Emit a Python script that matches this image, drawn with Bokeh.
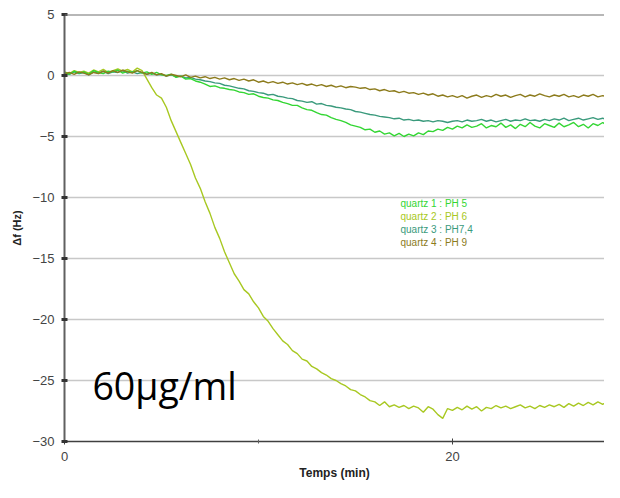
from bokeh.plotting import figure
from bokeh.models import Range1d, FixedTicker, Span, Label
from bokeh.embed import file_html
from bokeh.resources import INLINE

# ---- data ----
step_min = 0.25  # sampling interval of the recordings (min)

ph5 = [0.25, 0.10, 0.35, 0.20, 0.30, 0.10, 0.40, 0.25, 0.15, 0.35, 0.30, 0.45, 0.20, 0.35, 0.25, 0.40, 0.20, 0.30, 0.10, 0.25, 0.05,
       0.00, 0.10, -0.15, -0.05, -0.30, -0.25, -0.45, -0.55, -0.70, -0.90,
       -0.85, -1.00, -1.05, -1.15, -1.20, -1.35, -1.40, -1.55, -1.50, -1.70, -1.80, -1.85, -2.00, -2.05, -2.20, -2.30, -2.45,
       -2.45, -2.65, -2.80, -2.85, -3.05, -3.20, -3.25, -3.45, -3.60, -3.70, -3.85, -4.05, -4.15,
       -4.25, -4.45, -4.40, -4.65, -4.55, -4.80, -4.70, -4.95, -4.75, -5.00, -4.80, -4.95,
       -4.70, -4.85, -4.55, -4.60, -4.40, -4.50, -4.25, -4.40, -4.15,
       -4.30, -4.05, -4.25, -4.15, -3.95, -4.30, -4.10, -4.20, -3.90, -4.25,
       -4.05, -4.35, -4.00, -4.20, -3.85, -4.15, -4.30, -3.95, -4.10, -4.25,
       -3.90, -4.20, -4.05, -3.85, -4.20, -4.00, -4.30, -3.95, -4.10, -3.85,
       -4.15, -4.05, -4.25, -3.95]

ph6 = [0.30, 0.15, 0.40, 0.25, 0.35, 0.20, 0.45, 0.30, 0.50, 0.25, 0.40, 0.55, 0.35, 0.50, 0.30, 0.60, 0.40,
       -0.30, -1.00, -1.60, -1.85, -2.60, -3.70, -4.60, -5.50, -6.40, -7.30, -8.40, -9.25, -10.35, -11.30,
       -12.45, -13.35, -14.45, -15.35, -16.25, -16.85, -17.55, -17.90, -18.55, -19.05, -19.75, -20.15, -20.75,
       -21.25, -21.75, -22.05, -22.55, -22.80, -23.25, -23.40, -23.85, -24.05, -24.35, -24.55, -24.85,
       -25.00, -25.25, -25.45, -25.75, -25.85, -26.15, -26.35, -26.65, -26.75, -27.05, -26.75, -27.15, -27.00,
       -27.20, -27.05, -27.30, -27.10, -27.25, -27.60, -27.15, -27.35, -27.80, -28.10, -27.30, -27.45,
       -27.20, -27.40, -27.10, -27.35, -27.15, -27.50, -27.20, -27.30, -27.05, -27.25, -27.10, -27.30,
       -27.15, -27.00, -27.25, -27.10, -27.30, -27.05, -27.20, -27.00, -27.15, -26.95, -27.20, -26.90,
       -27.10, -26.85, -27.05, -26.80, -27.00, -26.75, -26.95, -26.70, -26.90, -26.80, -26.95]

ph74 = [0.20, 0.10, 0.30, 0.15, 0.25, 0.05, 0.30, 0.20, 0.35, 0.15, 0.30, 0.25, 0.40, 0.20, 0.30, 0.15, 0.25,
        0.10, 0.20, 0.05, 0.10, -0.05, 0.05, -0.10, -0.05,
        -0.20, -0.15, -0.30, -0.35, -0.45, -0.50, -0.60, -0.65, -0.80, -0.85, -0.95, -1.05, -1.10, -1.25, -1.30, -1.40,
        -1.45, -1.60, -1.55, -1.70, -1.75, -1.85, -1.90, -2.05,
        -2.10, -2.20, -2.15, -2.35, -2.30, -2.45, -2.50, -2.60, -2.65, -2.75, -2.80, -2.95,
        -3.00, -3.10, -3.20, -3.25, -3.35, -3.40,
        -3.45, -3.55, -3.50, -3.65, -3.60, -3.70, -3.65, -3.75, -3.70, -3.80, -3.70, -3.75, -3.85, -3.75,
        -3.70, -3.80, -3.65, -3.75, -3.70, -3.60, -3.75, -3.65, -3.80, -3.70,
        -3.60, -3.75, -3.65, -3.70, -3.55, -3.70, -3.65, -3.75, -3.60, -3.70,
        -3.55, -3.65, -3.50, -3.70, -3.60, -3.50, -3.65, -3.55, -3.45, -3.60,
        -3.50, -3.65, -3.45, -3.55, -3.50]

ph9 = [0.15, 0.25, 0.10, 0.30, 0.20, 0.05, 0.25, 0.15, 0.35, 0.20, 0.40, 0.25, 0.45, 0.30, 0.20, 0.40, 0.25,
       0.10, 0.25, 0.05, 0.15, -0.05, 0.10, 0.00, -0.10, 0.05, -0.15, -0.05, -0.20, -0.10, -0.25, -0.15, -0.30,
       -0.20, -0.35, -0.25, -0.40, -0.30, -0.45, -0.35, -0.55,
       -0.45, -0.60, -0.50, -0.65, -0.55, -0.70, -0.60, -0.75, -0.65, -0.80, -0.70, -0.85, -0.75, -0.90, -0.80,
       -0.95, -0.85, -1.00, -0.90, -0.95,
       -1.05, -1.00, -1.15, -1.10, -1.25, -1.15, -1.30, -1.25, -1.40, -1.30, -1.45, -1.40, -1.55, -1.45, -1.60,
       -1.50, -1.70, -1.60, -1.75, -1.65,
       -1.80, -1.65, -1.85, -1.70, -1.60, -1.80, -1.65, -1.75, -1.55, -1.70,
       -1.60, -1.80, -1.65, -1.55, -1.75, -1.60, -1.70, -1.50, -1.65, -1.75,
       -1.60, -1.70, -1.55, -1.75, -1.65, -1.80, -1.60, -1.70, -1.55, -1.75,
       -1.65, -1.80, -1.70, -1.60, -1.75]

series_names = ["quartz 1 : PH 5", "quartz 2 : PH 6", "quartz 3 : PH7,4", "quartz 4 : PH 9"]
series_colors = ["#33d633", "#a8c822", "#3a9a7c", "#8c7b1c"]
y_ticks = [-30, -25, -20, -15, -10, -5, 0, 5]
x_ticks = [0, 20]
x_minor_ticks = [10]
annotation_text = "60µg/ml"


def times(vals):
    return [i * step_min for i in range(len(vals))]


p = figure(width=604, height=482, output_backend="svg", toolbar_location=None,
           x_range=Range1d(0, 27.84), y_range=Range1d(-30, 5),
           min_border_left=64, min_border_right=0, min_border_top=14, min_border_bottom=41)
p.outline_line_color = None
p.background_fill_color = "white"
p.border_fill_color = "white"

# gridlines
p.xgrid.visible = False
p.ygrid.ticker = FixedTicker(ticks=y_ticks)
p.ygrid.grid_line_color = "#c8c8c8"
p.ygrid.grid_line_width = 1.5

# top frame line
p.add_layout(Span(location=5, dimension="width", line_color="#707070", line_width=2))

# series (draw order)
order = [1, 2, 0, 3]
data = [ph5, ph6, ph74, ph9]
for k in order:
    p.line(times(data[k]), data[k], line_color=series_colors[k], line_width=1.4)

# axes
p.yaxis.ticker = FixedTicker(ticks=y_ticks)
p.yaxis.axis_label = "Δf (Hz)"
p.yaxis.axis_label_text_font = "Liberation Sans"
p.yaxis.axis_label_text_font_style = "bold"
p.yaxis.axis_label_text_font_size = "11px"
p.yaxis.axis_label_text_color = "#222222"
p.yaxis.axis_label_standoff = 6
p.yaxis.major_label_text_font = "Liberation Sans"
p.yaxis.major_label_text_font_size = "13px"
p.yaxis.major_label_text_color = "#444444"
p.yaxis.major_label_standoff = 7
p.yaxis.axis_line_color = "#606060"
p.yaxis.axis_line_width = 2
p.yaxis.major_tick_line_color = "#333333"
p.yaxis.major_tick_line_width = 3
p.yaxis.major_tick_in = 3
p.yaxis.major_tick_out = 3
p.yaxis.minor_tick_line_color = None

p.xaxis.ticker = FixedTicker(ticks=x_ticks, minor_ticks=x_minor_ticks)
p.xaxis.axis_label = "Temps (min)"
p.xaxis.axis_label_text_font = "Liberation Sans"
p.xaxis.axis_label_text_font_style = "bold"
p.xaxis.axis_label_text_font_size = "12px"
p.xaxis.axis_label_text_color = "#222222"
p.xaxis.axis_label_standoff = 2
p.xaxis.major_label_text_font = "Liberation Sans"
p.xaxis.major_label_text_font_size = "13px"
p.xaxis.major_label_text_color = "#444444"
p.xaxis.major_label_standoff = 7
p.xaxis.axis_line_color = "#404040"
p.xaxis.axis_line_width = 1.5
p.xaxis.major_tick_line_color = "#404040"
p.xaxis.major_tick_in = 3
p.xaxis.major_tick_out = 3
p.xaxis.minor_tick_line_color = "#606060"
p.xaxis.minor_tick_in = 2
p.xaxis.minor_tick_out = 2

# legend-like texts
legend_x = 17.32
legend_y = [-10.49, -11.56, -12.62, -13.69]
for name, col, ly in zip(series_names, series_colors, legend_y):
    p.add_layout(Label(x=legend_x, y=ly, text=name, text_color=col,
                       text_font="Liberation Sans", text_font_size="10px",
                       text_baseline="middle"))

p.add_layout(Label(x=1.44, y=-25.42, text=annotation_text, text_color="black",
                   text_font="Open Sans", text_font_size="37.5px",
                   text_baseline="alphabetic"))

open("out.html", "w").write(file_html(p, INLINE))
